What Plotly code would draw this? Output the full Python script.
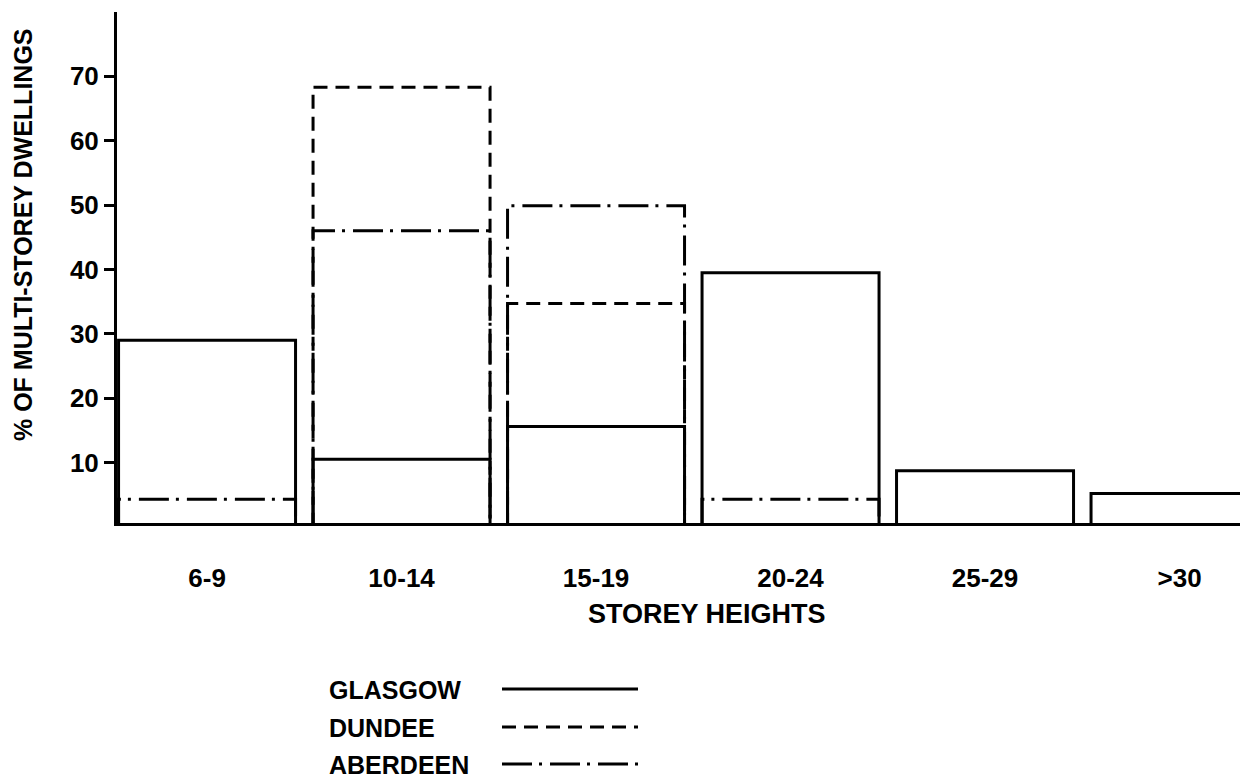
import plotly.graph_objects as go

# ---- data ----
categories = ["6-9", "10-14", "15-19", "20-24", "25-29", ">30"]
glasgow = [29.0, 10.5, 15.6, 39.5, 8.7, 5.2]
dundee = [None, 68.3, 34.7, None, None, None]
aberdeen = [4.3, 46.0, 49.9, 4.3, None, None]
y_ticks = [10, 20, 30, 40, 50, 60, 70]

series = [
    ("GLASGOW", glasgow, "solid"),
    ("DUNDEE", dundee, "14px,8px"),
    ("ABERDEEN", aberdeen, "30px,7px,3px,8px"),
]

BAR_W = 0.91
FONT = "Liberation Sans, Arial, sans-serif"

fig = go.Figure()
for name, vals, dash in series:
    xs, ys = [], []
    for i, v in enumerate(vals):
        if v is None:
            continue
        l, r = i - BAR_W / 2, i + BAR_W / 2
        xs += [l, l, r, r, None]
        ys += [0, v, v, 0, None]
    fig.add_trace(go.Scatter(x=xs, y=ys, mode="lines", name=name,
                             line=dict(color="black", width=3, dash=dash),
                             hoverinfo="skip", showlegend=False))

# layout geometry (page has an 8px body margin)
OFF = 8
W, H = 1248 - OFF, 779 - OFF
L, R, T = 117 - OFF, 0, 12 - OFF
plot_bottom = 523 - OFF
B = H - plot_bottom
pw, ph = W - L - R, plot_bottom - T

def px(x):
    return (x - OFF - L) / pw

def py(y):
    return (plot_bottom - (y - OFF)) / ph

fig.update_layout(
    width=W, height=H,
    margin=dict(l=L, r=R, t=T, b=B, pad=0),
    paper_bgcolor="white", plot_bgcolor="white",
    font=dict(family=FONT, color="black", size=26),
    showlegend=False,
)
fig.update_xaxes(
    range=[-0.463, 5.352],
    tickvals=list(range(len(categories))), ticktext=[f"<b>{c}</b>" for c in categories],
    showgrid=False, zeroline=False, showline=True, linecolor="black", linewidth=3,
    ticks="", ticklabelstandoff=30, tickfont=dict(size=26, family=FONT),
)
fig.update_yaxes(
    range=[0.6, 80],
    tickvals=y_ticks, ticktext=[f"<b>{t}</b>" for t in y_ticks],
    showgrid=False, zeroline=False, showline=True, linecolor="black", linewidth=3,
    ticks="outside", ticklen=10, tickwidth=3, tickcolor="black",
    tickfont=dict(size=26, family=FONT),
)

annotations = [
    dict(text="<b>% OF MULTI-STOREY DWELLINGS</b>", textangle=-90,
         x=px(23), y=py(235), xref="paper", yref="paper",
         xanchor="center", yanchor="middle", showarrow=False,
         font=dict(size=25, family=FONT)),
    dict(text="<b>STOREY HEIGHTS</b>", x=px(707), y=py(614),
         xref="paper", yref="paper", xanchor="center", yanchor="middle",
         showarrow=False, font=dict(size=27, family=FONT)),
]
shapes = []
leg_y = [689, 727, 764]
for (name, vals, dash), yy in zip(series, leg_y):
    annotations.append(dict(text=f"<b>{name}</b>", x=px(327), y=py(yy + 1),
                            xref="paper", yref="paper", xanchor="left",
                            yanchor="middle", showarrow=False,
                            font=dict(size=25, family=FONT)))
    shapes.append(dict(type="line", xref="paper", yref="paper",
                       x0=px(502), x1=px(638), y0=py(yy), y1=py(yy),
                       line=dict(color="black", width=3, dash=dash)))
fig.update_layout(annotations=annotations, shapes=shapes)

fig.write_html("out.html")
